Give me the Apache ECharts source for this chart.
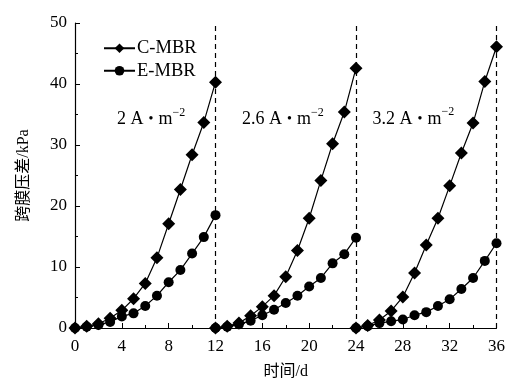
<!DOCTYPE html>
<html><head><meta charset="utf-8">
<script src="https://cdn.jsdelivr.net/npm/echarts@6/dist/echarts.min.js"></script>
<style>html,body{margin:0;padding:0;background:#fff}#c{width:508px;height:385px}</style>
</head><body><div id="c"></div>
<script>
const segDays = [
  [0,1,2,3,4,5,6,7,8,9,10,11,12],
  [12,13,14,15,16,17,18,19,20,21,22,23,24],
  [24,25,26,27,28,29,30,31,32,33,34,35,36]
];
const cmbr1 = [0,0.3,0.7,1.6,2.9,4.8,7.3,11.5,17.1,22.7,28.4,33.7,40.3];
const cmbr2 = [0,0.3,0.8,2.0,3.5,5.3,8.4,12.7,18.0,24.2,30.2,35.4,42.6];
const cmbr3 = [0,0.4,1.3,2.8,5.1,9.0,13.6,18.0,23.3,28.7,33.6,40.4,46.1];
const embr1 = [0,0.2,0.5,1.0,1.9,2.4,3.6,5.3,7.5,9.5,12.2,14.9,18.5];
const embr2 = [0,0.2,0.6,1.2,2.1,3.0,4.1,5.3,6.8,8.2,10.6,12.1,14.8];
const embr3 = [0,0.3,0.8,1.1,1.4,2.1,2.6,3.6,4.7,6.4,8.2,11.0,13.9];
const boundaries = [12,24,36];
const densities = ['2','2.6','3.2'];
const labelPos = [[6.5,34.5],[17.75,34.5],[28.9,34.6]];

const serif = '"Liberation Serif","Noto Sans CJK SC",serif';
function pairs(d,v){return d.map((x,i)=>[x,v[i]]);}
const cSets=[cmbr1,cmbr2,cmbr3], eSets=[embr1,embr2,embr3];
const series=[];
for(let s=0;s<3;s++){
  series.push({name:'E-MBR',type:'line',data:pairs(segDays[s],eSets[s]),symbol:'circle',symbolSize:10,
    lineStyle:{color:'#000',width:1.2},itemStyle:{color:'#000'},z:2});
}
for(let s=0;s<3;s++){
  series.push({name:'C-MBR',type:'line',data:pairs(segDays[s],cSets[s]),symbol:'diamond',symbolSize:13,
    lineStyle:{color:'#000',width:1.2},itemStyle:{color:'#000'},z:3});
}
series.push({name:'annot',type:'line',data:[],silent:true,
  markLine:{silent:true,symbol:'none',label:{show:false},lineStyle:{color:'#000',type:[5,4],width:1.2},
    data:boundaries.map(b=>[{coord:[b,0]},{coord:[b,50]}])},
  markPoint:{silent:true,symbol:'circle',symbolSize:0,
    label:{show:true,color:'#000',fontFamily:serif,fontSize:18,position:'inside',
      rich:{
        n:{fontFamily:serif,fontSize:18,color:'#000',lineHeight:22,verticalAlign:'bottom'},
        d:{fontFamily:serif,fontSize:14,color:'#000',lineHeight:22,verticalAlign:'bottom',padding:[0,5,2,5]},
        s:{fontFamily:serif,fontSize:12,color:'#000',lineHeight:22,verticalAlign:'top'}
      }},
    data:densities.map((t,i)=>({coord:labelPos[i],value:t,
      label:{formatter:'{n|'+t+' A}{d|•}{n|m}{s|−2}'}}))}
});
const chart=echarts.init(document.getElementById('c'),null,{renderer:'canvas'});
chart.setOption({
  animation:false,
  backgroundColor:'#fff',
  grid:{left:75,right:11,top:23,bottom:56},
  legend:{data:['C-MBR','E-MBR'],orient:'vertical',left:98,top:34,itemWidth:31,itemHeight:12,itemGap:4,
    textStyle:{fontFamily:serif,fontSize:18.5,color:'#000',padding:[0,0,0,-3]}},
  xAxis:{type:'value',min:0,max:36,interval:4,name:'时间/d',nameLocation:'middle',nameGap:36,
    nameTextStyle:{fontFamily:serif,fontSize:16,color:'#000'},
    axisLine:{lineStyle:{color:'#000',width:1.2}},
    axisTick:{inside:true,length:5,lineStyle:{color:'#000'}},
    minorTick:{show:true,splitNumber:2,length:3,lineStyle:{color:'#000'}},
    splitLine:{show:false},
    axisLabel:{fontFamily:serif,fontSize:17,color:'#000',margin:10}},
  yAxis:{type:'value',min:0,max:50,interval:10,name:'跨膜压差/kPa',nameLocation:'middle',nameGap:43,
    nameTextStyle:{fontFamily:serif,fontSize:16,color:'#000'},
    axisLine:{show:true,lineStyle:{color:'#000',width:1.2}},
    axisTick:{show:true,inside:true,length:5,lineStyle:{color:'#000'}},
    minorTick:{show:true,splitNumber:2,length:3,lineStyle:{color:'#000'}},
    splitLine:{show:false},
    axisLabel:{fontFamily:serif,fontSize:17,color:'#000',margin:8}},
  series:series
});
</script></body></html>
